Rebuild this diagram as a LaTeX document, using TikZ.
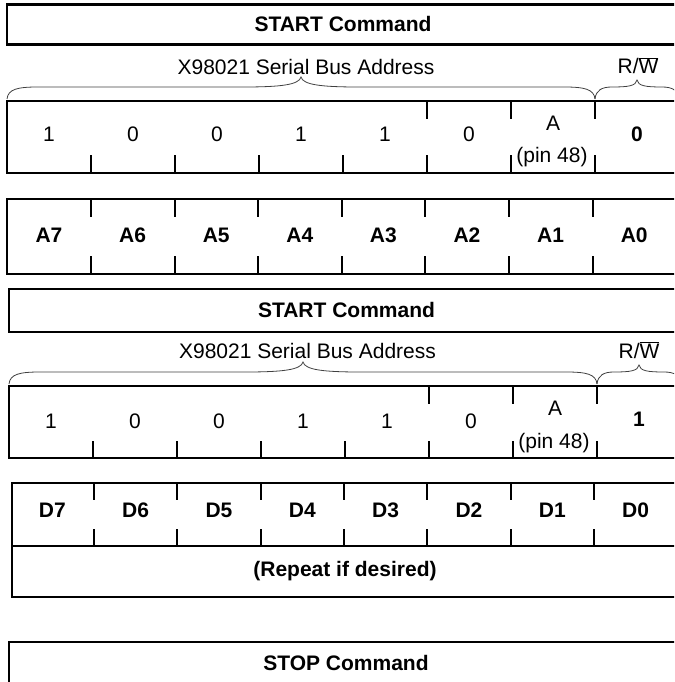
\documentclass[tikz,border=0pt]{standalone}
\usepackage{fontspec}
\setmainfont{Liberation Sans}
\begin{document}
\begin{tikzpicture}[x=1pt,y=-1pt,
  box/.style={line width=2.7pt, line join=miter},
  tickmark/.style={line width=2pt},
  braceln/.style={line width=0.8pt, draw=black!75},
  txt/.style={font=\fontsize{21}{25}\selectfont, inner sep=0pt, anchor=base},
  btxt/.style={txt, font=\fontsize{21}{25}\selectfont\bfseries}]
\useasboundingbox (0,0) rectangle (674,682);
\clip (0,0) rectangle (674,682);

% ---------- Block 1 ----------
\draw[box] (7,4.5) rectangle (682,44.5);
\node[btxt] (start1) at (343,32) {START Command};
\node[txt] (addr1) at (306,74.5) {X98021 Serial Bus Address};
\node[txt] (rw1) at (638,74) {R/$\overline{\mbox{W}}$};

% braces block 1
\draw[braceln] (7,99) .. controls (8,89) and (18,87) .. (38,87) -- (243,87)
  .. controls (280,87) and (299,85) .. (301,77)
  .. controls (303,85) and (322,87) .. (359,87) -- (564,87)
  .. controls (584,87) and (594,89) .. (595,99);
\draw[braceln] (595,99) .. controls (596,90) and (602,87) .. (612,87)
  .. controls (628,87) and (636,86) .. (637,80)
  .. controls (638,86) and (646,87) .. (662,87)
  .. controls (672,87) and (678,90) .. (679,99);

% bits row 1
\draw[box] (7,101) rectangle (682,173);
\foreach \x in {91,175,259,343,427,511,595} \draw[tickmark] (\x,155) -- (\x,173);
\foreach \x in {427,511,595} \draw[tickmark] (\x,101) -- (\x,119);
\foreach \v [count=\i] in {1,0,0,1,1,0}
  \node[txt] (bA\i) at ({49+84*(\i-1)},142) {\v};
\node[txt] (bApin) at (553,130) {A};
\node[txt] (bApinno) at (552,162.5) {(pin 48)};
\node[btxt] (bArw) at (637,141) {0};

% address byte row
\draw[box] (7,199) rectangle (682,274);
\foreach \i in {1,...,7} {
  \draw[tickmark] ({91+83.6*(\i-1)},199) -- ({91+83.6*(\i-1)},217);
  \draw[tickmark] ({91+83.6*(\i-1)},256) -- ({91+83.6*(\i-1)},274);
}
\foreach \t [count=\i] in {A7,A6,A5,A4,A3,A2,A1,A0}
  \node[btxt] (ad\i) at ({49+83.6*(\i-1)},242) {\t};

% ---------- Block 2 ----------
\draw[box] (9,289) rectangle (682,332);
\node[btxt] (start2) at (346.5,317) {START Command};
\node[txt] (addr2) at (307.5,358) {X98021 Serial Bus Address};
\node[txt] (rw2) at (639,358) {R/$\overline{\mbox{W}}$};

\begin{scope}[shift={(2,285)}]
\draw[braceln] (7,99) .. controls (8,89) and (18,87) .. (38,87) -- (243,87)
  .. controls (280,87) and (299,85) .. (301,77)
  .. controls (303,85) and (322,87) .. (359,87) -- (564,87)
  .. controls (584,87) and (594,89) .. (595,99);
\draw[braceln] (595,99) .. controls (596,90) and (602,87) .. (612,87)
  .. controls (628,87) and (636,86) .. (637,80)
  .. controls (638,86) and (646,87) .. (662,87)
  .. controls (672,87) and (678,90) .. (679,99);
\end{scope}

\draw[box] (9,386) rectangle (682,458);
\foreach \x in {93,177,261,345,429,513,597} \draw[tickmark] (\x,441) -- (\x,458);
\foreach \x in {429,513,597} \draw[tickmark] (\x,386) -- (\x,404);
\foreach \v [count=\i] in {1,0,0,1,1,0}
  \node[txt] (bB\i) at ({51+84*(\i-1)},428) {\v};
\node[txt] (bBpin) at (555,415) {A};
\node[txt] (bBpinno) at (554,448) {(pin 48)};
\node[btxt] (bBrw) at (639,426) {1};

% data byte row + repeat
\draw[box] (12,483) rectangle (682,597);
\draw[box] (12,546) -- (682,546);
\foreach \i in {1,...,7} {
  \draw[tickmark] ({94+83.33*(\i-1)},483) -- ({94+83.33*(\i-1)},500);
  \draw[tickmark] ({94+83.33*(\i-1)},529) -- ({94+83.33*(\i-1)},546);
}
\foreach \t [count=\i] in {D7,D6,D5,D4,D3,D2,D1,D0}
  \node[btxt] (dd\i) at ({52.3+83.33*(\i-1)},517.5) {\t};
\node[btxt] (rep) at (345,576.5) {(Repeat if desired)};

% stop
\draw[box] (9,642) rectangle (682,700);
\node[btxt] (stop) at (346,670) {STOP Command};
\end{tikzpicture}
\end{document}
